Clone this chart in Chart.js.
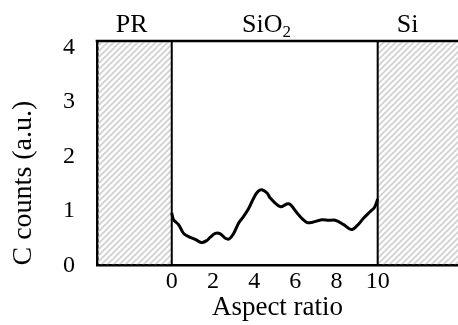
<!DOCTYPE html>
<html>
<head>
<meta charset="utf-8">
<script src="https://cdn.jsdelivr.net/npm/chart.js@4.4.1/dist/chart.umd.min.js"></script>
<style>
html,body{margin:0;padding:0;background:#fff;overflow:hidden;}
#wrap{width:458px;height:325px;position:relative;}
</style>
</head>
<body>
<div id="wrap"><canvas id="c" width="458" height="325"></canvas></div>
<script>
// ---- data ----
const aspectRatio = [0, 0.09, 0.33, 0.57, 0.82, 1.14, 1.44, 1.71, 1.87, 2.12, 2.36, 2.60, 2.80, 3.01, 3.25, 3.49, 3.74, 3.98, 4.19, 4.38, 4.63, 4.78, 5.27, 5.59, 5.75, 6.16, 6.56, 6.80, 7.29, 7.62, 7.94, 8.35, 8.72, 9.00, 9.32, 9.64, 9.85, 10.0];
const cCounts = [0.96, 0.84, 0.75, 0.59, 0.53, 0.48, 0.42, 0.46, 0.52, 0.59, 0.58, 0.50, 0.49, 0.59, 0.78, 0.90, 1.05, 1.24, 1.36, 1.39, 1.33, 1.24, 1.08, 1.13, 1.12, 0.93, 0.79, 0.79, 0.84, 0.83, 0.83, 0.75, 0.66, 0.73, 0.87, 0.99, 1.07, 1.22];
const xTicks = [0, 2, 4, 6, 8, 10];
const yTicks = [0, 1, 2, 3, 4];
const regionLabels = ['PR', 'SiO', 'Si'];
const regionBounds = [0, 10];

const FONT = "'Liberation Serif', 'Times New Roman', serif";

function makeHatch(ctx) {
  const p = document.createElement('canvas');
  p.width = 6; p.height = 6;
  const g = p.getContext('2d');
  g.strokeStyle = '#cfcfcf';
  g.lineWidth = 1.6;
  g.beginPath();
  g.moveTo(0, 6); g.lineTo(6, 0);
  g.moveTo(-3, 3); g.lineTo(3, -3);
  g.moveTo(3, 9); g.lineTo(9, 3);
  g.stroke();
  return ctx.createPattern(p, 'repeat');
}

const decor = {
  id: 'decor',
  beforeDatasetsDraw(chart) {
    const {ctx, chartArea: a, scales: {x}} = chart;
    const x0 = x.getPixelForValue(regionBounds[0]);
    const x1 = x.getPixelForValue(regionBounds[1]);
    const t = a.top + 1.3, b = a.bottom - 1.3, l = a.left + 1.3;
    ctx.save();
    ctx.fillStyle = makeHatch(ctx);
    ctx.fillRect(l, t, x0 - l, b - t);
    ctx.fillRect(x1, t, a.right - x1, b - t);
    ctx.strokeStyle = '#000';
    ctx.lineWidth = 2;
    ctx.beginPath();
    ctx.moveTo(x0, a.top); ctx.lineTo(x0, a.bottom);
    ctx.moveTo(x1, a.top); ctx.lineTo(x1, a.bottom);
    ctx.stroke();
    ctx.restore();
  },
  afterDraw(chart) {
    const {ctx, chartArea: a, scales: {x}} = chart;
    ctx.save();
    ctx.strokeStyle = '#000';
    ctx.lineWidth = 2.6;
    ctx.beginPath();
    ctx.moveTo(a.left - 1.3, a.top); ctx.lineTo(a.right, a.top);
    ctx.stroke();
    ctx.fillStyle = '#000';
    ctx.textBaseline = 'alphabetic';
    ctx.textAlign = 'center';
    ctx.font = '26px ' + FONT;
    const ly = 32;
    ctx.fillText(regionLabels[0], x.getPixelForValue(-1.95), ly);
    // SiO2 with subscript
    const sx = x.getPixelForValue(4.6);
    const w1 = ctx.measureText(regionLabels[1]).width;
    ctx.font = '17px ' + FONT;
    const w2 = ctx.measureText('2').width;
    const start = sx - (w1 + w2) / 2;
    ctx.textAlign = 'left';
    ctx.font = '26px ' + FONT;
    ctx.fillText(regionLabels[1], start, ly);
    ctx.font = '17px ' + FONT;
    ctx.fillText('2', start + w1, ly + 5);
    ctx.textAlign = 'center';
    ctx.font = '26px ' + FONT;
    ctx.fillText(regionLabels[2], x.getPixelForValue(11.45), ly);
    ctx.restore();
  }
};

new Chart(document.getElementById('c'), {
  type: 'line',
  data: {
    datasets: [{
      data: aspectRatio.map((v, i) => ({x: v, y: cCounts[i]})),
      borderColor: '#000',
      borderWidth: 3,
      pointRadius: 0,
      tension: 0.35,
      fill: false
    }]
  },
  options: {
    responsive: false,
    animation: false,
    layout: {padding: {top: 41, left: 0, right: 0, bottom: 0}},
    plugins: {legend: {display: false}, tooltip: {enabled: false}},
    scales: {
      x: {
        type: 'linear',
        min: -3.63,
        max: 13.9,
        grid: {display: false, drawTicks: false},
        border: {display: true, color: '#000', width: 2.6},
        afterBuildTicks(s) { s.ticks = xTicks.map(v => ({value: v})); },
        afterFit(s) { s.height = 59.5; },
        ticks: {
          color: '#000',
          padding: 2,
          maxRotation: 0,
          autoSkip: false,
          font: {family: FONT, size: 24}
        },
        title: {
          display: true,
          text: 'Aspect ratio',
          color: '#000',
          font: {family: FONT, size: 27},
          padding: {top: 0, bottom: 1}
        }
      },
      y: {
        min: 0,
        max: 4.12,
        grid: {display: false, drawTicks: false},
        border: {display: true, color: '#000', width: 2.6},
        afterBuildTicks(s) { s.ticks = yTicks.map(v => ({value: v})); },
        afterFit(s) { s.width = 97; },
        ticks: {
          color: '#000',
          padding: 22,
          font: {family: FONT, size: 24}
        },
        title: {
          display: true,
          text: 'C counts (a.u.)',
          align: 'start',
          color: '#000',
          font: {family: FONT, size: 28},
          padding: {top: 7, bottom: 0}
        }
      }
    }
  },
  plugins: [decor]
});
</script>
</body>
</html>
